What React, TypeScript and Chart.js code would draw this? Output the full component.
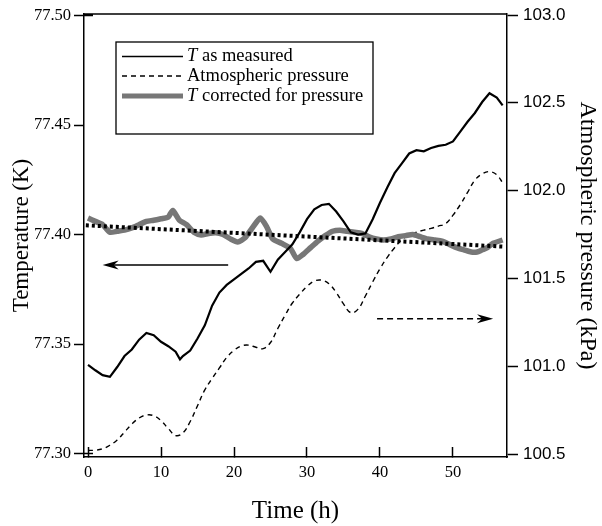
import React, { useEffect, useRef } from "react";
import { Chart, registerables } from "chart.js";

Chart.register(...registerables);

// ---- data ----
const measuredTime = [0, 1, 2, 3, 4, 5, 6, 7, 8, 9, 10, 11, 12, 12.6, 13, 14, 15, 16, 17, 18, 19, 20, 21, 22, 23, 24, 25, 26, 27, 28, 29, 30, 31, 32, 33, 34, 35, 36, 37, 38, 39, 40, 41, 42, 43, 44, 45, 46, 47, 48, 49, 50, 51, 52, 53, 54, 55, 56, 56.8];
const measuredT = [77.3405, 77.338, 77.3358, 77.335, 77.3395, 77.3445, 77.3475, 77.352, 77.355, 77.354, 77.351, 77.349, 77.3465, 77.343, 77.3445, 77.347, 77.3525, 77.3585, 77.3675, 77.3735, 77.377, 77.3795, 77.382, 77.3845, 77.3875, 77.388, 77.383, 77.3885, 77.392, 77.3955, 77.401, 77.407, 77.4115, 77.4135, 77.414, 77.4105, 77.406, 77.401, 77.4, 77.4005, 77.407, 77.4145, 77.4215, 77.428, 77.4325, 77.437, 77.4385, 77.438, 77.4395, 77.4405, 77.441, 77.4425, 77.447, 77.4515, 77.4555, 77.4605, 77.4645, 77.4625, 77.459];

const pressureTime = [0, 1, 2, 3, 4, 5, 6, 7, 8, 9, 10, 11, 12, 13, 14, 15, 16, 17, 18, 19, 20, 21, 22, 23, 24, 25, 26, 27, 28, 29, 30, 31, 32, 33, 34, 35, 36, 37, 38, 39, 40, 41, 42, 43, 44, 45, 46, 47, 48, 49, 50, 51, 52, 53, 54, 55, 56, 56.8];
const pressureKPa = [100.52, 100.522, 100.53, 100.55, 100.58, 100.625, 100.67, 100.705, 100.722, 100.718, 100.69, 100.645, 100.605, 100.62, 100.685, 100.775, 100.865, 100.93, 100.99, 101.05, 101.09, 101.115, 101.12, 101.108, 101.1, 101.135, 101.215, 101.29, 101.36, 101.41, 101.455, 101.485, 101.49, 101.47, 101.42, 101.355, 101.305, 101.325, 101.4, 101.48, 101.555, 101.62, 101.675, 101.72, 101.745, 101.763, 101.775, 101.785, 101.798, 101.812, 101.86, 101.92, 101.99, 102.06, 102.095, 102.108, 102.09, 102.045];

const correctedTime = [0, 1, 2, 3, 4, 5, 6, 7, 8, 9, 10, 11, 11.6, 12.5, 13.5, 14.5, 15.5, 16.5, 17.5, 18.5, 19.5, 20.5, 21.5, 22.5, 23.6, 24.5, 25.3, 26.5, 27.7, 28.6, 29.5, 30.5, 31.5, 32.5, 33.5, 34.5, 35.5, 36.5, 37.5, 38.5, 39.5, 40.5, 41.5, 42.5, 43.5, 44.5, 45.5, 46.5, 47.5, 48.5, 49.5, 50.5, 51.5, 52.5, 53.3, 54, 54.7, 55.5, 56.8];
const correctedT = [77.4075, 77.406, 77.4045, 77.401, 77.4015, 77.402, 77.403, 77.4045, 77.406, 77.4065, 77.4072, 77.408, 77.411, 77.4066, 77.4045, 77.401, 77.3998, 77.4005, 77.4008, 77.4, 77.398, 77.3966, 77.3985, 77.403, 77.4075, 77.4034, 77.398, 77.396, 77.3938, 77.389, 77.391, 77.394, 77.397, 77.3995, 77.4015, 77.402, 77.4015, 77.401, 77.4005, 77.399, 77.398, 77.3975, 77.398, 77.399, 77.3995, 77.4, 77.399, 77.398, 77.3975, 77.397, 77.3955, 77.394, 77.393, 77.392, 77.392, 77.393, 77.394, 77.396, 77.3975];

const trendTime = [-0.3, 56.8];
const trendT = [77.4042, 77.3945];

const timeTicks = [0, 10, 20, 30, 40, 50];
const tempTicks = [77.3, 77.35, 77.4, 77.45, 77.5];
const tempInnerTicks = [77.3, 77.5];
const pressureTicks = [100.5, 101.0, 101.5, 102.0, 102.5, 103.0];

const tempArrowTime = [19.2, 2.0];
const tempArrowValue = 77.3861;
const pressureArrowTime = [39.6, 55.5];
const pressureArrowValue = 101.27;

const legendLabels = [
  ["T", " as measured"],
  ["", "Atmospheric pressure"],
  ["T", " corrected for pressure"],
];

const SERIF = "'Liberation Serif', 'Times New Roman', serif";
const SANS = "'Liberation Sans', Arial, sans-serif";

const pts = (xs: number[], ys: number[]) => xs.map((x, i) => ({ x, y: ys[i] }));

function arrow(ctx: CanvasRenderingContext2D, x1: number, x2: number, y: number, dash: number[]) {
  const dir = x2 > x1 ? 1 : -1;
  const headLen = 16;
  ctx.save();
  ctx.strokeStyle = "#000";
  ctx.fillStyle = "#000";
  ctx.lineWidth = 1.6;
  ctx.setLineDash(dash);
  ctx.beginPath();
  ctx.moveTo(x1, y);
  ctx.lineTo(x2 - dir * headLen * 0.6, y);
  ctx.stroke();
  ctx.setLineDash([]);
  ctx.beginPath();
  ctx.moveTo(x2, y);
  ctx.lineTo(x2 - dir * headLen, y - 4.5);
  ctx.lineTo(x2 - dir * headLen * 0.7, y);
  ctx.lineTo(x2 - dir * headLen, y + 4.5);
  ctx.closePath();
  ctx.fill();
  ctx.restore();
}

const extrasPlugin = {
  id: "extras",
  afterDraw(chart: any) {
    const ctx: CanvasRenderingContext2D = chart.ctx;
    const ca = chart.chartArea;
    const xs = chart.scales.x;
    const yT = chart.scales.yT;
    const yP = chart.scales.yP;
    // top border + inner end ticks on temperature axis
    ctx.save();
    ctx.strokeStyle = "#000";
    ctx.lineWidth = 1.5;
    ctx.beginPath();
    ctx.moveTo(ca.left, ca.top);
    ctx.lineTo(ca.right, ca.top);
    tempInnerTicks.forEach((v) => {
      const py = yT.getPixelForValue(v);
      ctx.moveTo(ca.left, py);
      ctx.lineTo(ca.left + 9, py);
    });
    ctx.stroke();
    ctx.restore();

    // arrows
    arrow(ctx, xs.getPixelForValue(tempArrowTime[0]), xs.getPixelForValue(tempArrowTime[1]), yT.getPixelForValue(tempArrowValue), []);
    arrow(ctx, xs.getPixelForValue(pressureArrowTime[0]), xs.getPixelForValue(pressureArrowTime[1]), yP.getPixelForValue(pressureArrowValue), [6, 4]);

    // legend
    const bx = 116, by = 42, bw = 257, bh = 92;
    ctx.save();
    ctx.fillStyle = "#fff";
    ctx.fillRect(bx, by, bw, bh);
    ctx.strokeStyle = "#000";
    ctx.lineWidth = 1.3;
    ctx.strokeRect(bx, by, bw, bh);
    const rows = [56.5, 76, 96];
    const styles = [
      { color: "#000", width: 1.6, dash: [] as number[] },
      { color: "#000", width: 1.4, dash: [5, 4] },
      { color: "#777", width: 5, dash: [] as number[] },
    ];
    rows.forEach((ry, i) => {
      const s = styles[i];
      ctx.strokeStyle = s.color;
      ctx.lineWidth = s.width;
      ctx.setLineDash(s.dash);
      ctx.beginPath();
      ctx.moveTo(122, ry);
      ctx.lineTo(183, ry);
      ctx.stroke();
      ctx.setLineDash([]);
      ctx.fillStyle = "#000";
      ctx.textBaseline = "middle";
      ctx.textAlign = "left";
      let tx = 187;
      const [it, rest] = legendLabels[i];
      if (it) {
        ctx.font = `italic 18.5px ${SERIF}`;
        ctx.fillText(it, tx, ry);
        tx += ctx.measureText(it).width;
      }
      ctx.font = `18.5px ${SERIF}`;
      ctx.fillText(rest, tx, ry);
    });
    ctx.restore();
  },
};

export default function App() {
  const ref = useRef<HTMLCanvasElement | null>(null);
  useEffect(() => {
    if (!ref.current) return;
    const chart = new Chart(ref.current, {
      type: "line",
      data: {
        datasets: [
          {
            label: "Atmospheric pressure",
            data: pts(pressureTime, pressureKPa),
            yAxisID: "yP",
            borderColor: "#000",
            borderWidth: 1.4,
            borderDash: [5, 4],
            tension: 0.4,
            pointRadius: 0,
            fill: false,
            order: 4,
          },
          {
            label: "T corrected for pressure",
            data: pts(correctedTime, correctedT),
            yAxisID: "yT",
            borderColor: "#777",
            borderWidth: 5.5,
            tension: 0.2,
            pointRadius: 0,
            fill: false,
            order: 3,
          },
          {
            label: "T as measured",
            data: pts(measuredTime, measuredT),
            yAxisID: "yT",
            borderColor: "#000",
            borderWidth: 2.2,
            tension: 0,
            pointRadius: 0,
            fill: false,
            order: 2,
          },
          {
            label: "trend",
            data: pts(trendTime, trendT),
            yAxisID: "yT",
            borderColor: "#000",
            borderWidth: 4,
            borderDash: [3, 3],
            borderCapStyle: "butt",
            tension: 0,
            pointRadius: 0,
            fill: false,
            order: 1,
          },
        ],
      },
      options: {
        responsive: false,
        animation: false,
        devicePixelRatio: 1,
        layout: { padding: { top: 14, left: 0, right: 0, bottom: 0 } },
        plugins: { legend: { display: false }, tooltip: { enabled: false } },
        scales: {
          x: {
            type: "linear",
            position: "bottom",
            min: -0.55,
            max: 57.4,
            afterBuildTicks: (s: any) => {
              s.ticks = timeTicks.map((v) => ({ value: v }));
            },
            afterFit: (s: any) => {
              s.height = 69;
              s.paddingLeft = 0;
              s.paddingRight = 0;
            },
            grid: { drawOnChartArea: false, drawTicks: true, tickLength: -10, tickColor: "#000", tickWidth: 1.5 },
            border: { display: true, color: "#000", width: 1.5 },
            ticks: {
              font: { family: SERIF, size: 16.5 },
              color: "#000",
              padding: 16,
              maxRotation: 0,
              autoSkip: false,
              callback: (v: any) => String(v),
            },
            title: {
              display: true,
              text: "Time (h)",
              font: { family: SERIF, size: 25 },
              color: "#000",
              padding: { top: 0, bottom: 0 },
            },
          },
          yT: {
            type: "linear",
            position: "left",
            min: 77.2984,
            max: 77.5007,
            afterBuildTicks: (s: any) => {
              s.ticks = tempTicks.map((v) => ({ value: v }));
            },
            afterFit: (s: any) => {
              s.width = 84;
              s.paddingTop = 0;
              s.paddingBottom = 0;
            },
            grid: { drawOnChartArea: false, drawTicks: true, tickLength: 10, tickColor: "#000", tickWidth: 1.5 },
            border: { display: true, color: "#000", width: 1.5 },
            ticks: {
              font: { family: SERIF, size: 16.5 },
              color: "#000",
              padding: 3,
              autoSkip: false,
              callback: (v: any) => Number(v).toFixed(2),
            },
            title: {
              display: true,
              text: "Temperature (K)",
              font: { family: SERIF, size: 23 },
              color: "#000",
              padding: { top: 8, bottom: 0 },
            },
          },
          yP: {
            type: "linear",
            position: "right",
            min: 100.483,
            max: 103.0057,
            afterBuildTicks: (s: any) => {
              s.ticks = pressureTicks.map((v) => ({ value: v }));
            },
            afterFit: (s: any) => {
              s.width = 95;
              s.paddingTop = 0;
              s.paddingBottom = 0;
            },
            grid: { drawOnChartArea: false, drawTicks: true, tickLength: 11, tickColor: "#000", tickWidth: 1.5 },
            border: { display: true, color: "#000", width: 1.5 },
            ticks: {
              font: { family: SANS, size: 17 },
              color: "#000",
              padding: 5,
              autoSkip: false,
              callback: (v: any) => Number(v).toFixed(1),
            },
            title: {
              display: true,
              text: "Atmospheric pressure (kPa)",
              font: { family: SERIF, size: 24 },
              color: "#000",
              padding: { top: 0, bottom: 0 },
            },
          },
        },
      },
      plugins: [extrasPlugin],
    } as any);
    return () => chart.destroy();
  }, []);
  return (
    <div style={{ position: "absolute", left: 0, top: 0, width: 602, height: 526, background: "#fff" }}>
      <canvas ref={ref} width={602} height={526} style={{ width: 602, height: 526, display: "block" }} />
    </div>
  );
}
